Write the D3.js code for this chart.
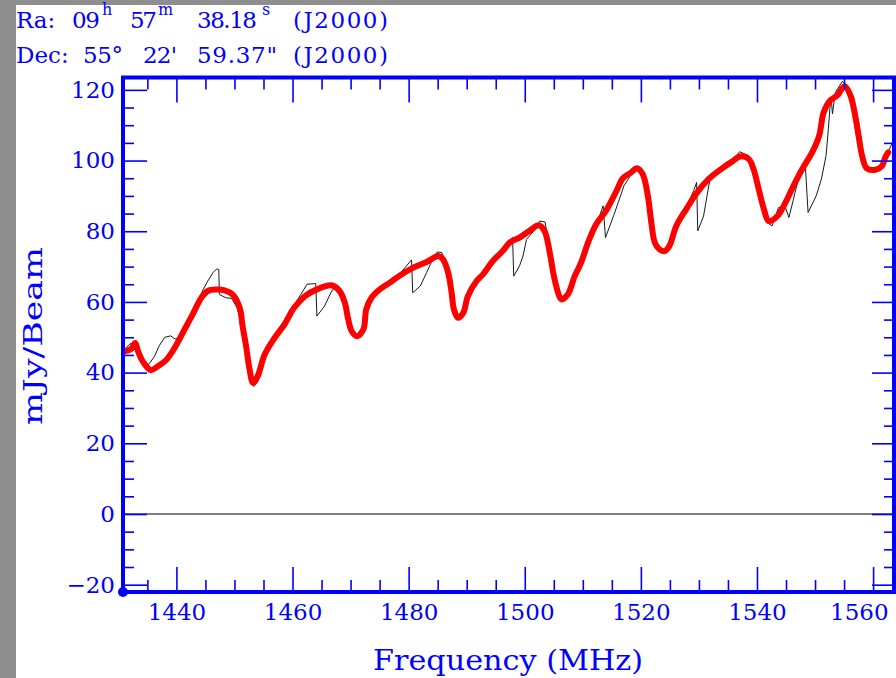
<!DOCTYPE html>
<html>
<head>
<meta charset="utf-8">
<script src="https://cdn.jsdelivr.net/npm/d3@7"></script>
<style>
body{margin:0;background:#8e8e8e;}
svg{display:block;}
</style>
</head>
<body>
<script>
// values: [frequency MHz, flux mJy/Beam]
var freqTicks = [1440, 1460, 1480, 1500, 1520, 1540, 1560];
var fluxTicks = [-20, 0, 20, 40, 60, 80, 100, 120];

var fitCurve = [
 [1431.1,46.0],[1432.2,46.7],[1432.9,48.4],[1433.4,46.0],[1434.2,43.2],[1435.6,40.7],[1436.8,41.8],
 [1438.2,43.5],[1439.7,47.0],[1441.4,52.2],[1442.8,56.5],[1444.3,61.2],[1445.4,63.1],[1446.9,63.5],
 [1448.3,63.3],[1449.7,62.1],[1450.9,58.4],[1451.4,53.1],[1452.0,47.5],[1452.6,40.9],[1453.2,37.1],
 [1454.0,39.0],[1455.2,45.1],[1456.9,49.8],[1458.6,53.6],[1460.3,58.4],[1462.1,61.6],[1464.4,63.7],
 [1466.7,64.7],[1468.1,63.1],[1469.0,59.8],[1469.6,55.0],[1470.2,51.7],[1471.1,50.3],[1472.2,52.2],
 [1472.7,57.9],[1473.6,61.2],[1475.0,63.5],[1476.7,65.4],[1478.5,67.5],[1480.8,69.7],[1483.1,71.3],
 [1485.1,73.0],[1485.9,72.1],[1486.8,68.3],[1487.4,62.6],[1487.8,57.9],[1488.5,55.5],[1489.4,56.9],
 [1490.2,61.6],[1491.7,65.9],[1492.8,67.8],[1494.5,71.6],[1496.2,74.4],[1497.4,76.8],[1499.1,78.2],
 [1500.8,80.1],[1502.4,81.7],[1503.4,80.1],[1504.3,74.0],[1504.9,68.3],[1505.5,64.0],[1506.3,60.7],
 [1507.4,62.1],[1508.6,67.3],[1509.7,71.1],[1510.9,76.8],[1512.3,82.0],[1514.0,85.8],[1515.8,91.4],
 [1516.9,95.0],[1518.3,96.6],[1519.3,97.8],[1520.3,96.2],[1521.2,90.0],[1521.8,82.5],[1522.4,76.8],
 [1523.2,74.9],[1524.1,74.4],[1524.9,75.8],[1526.1,81.5],[1527.8,86.2],[1529.7,91.0],[1531.7,94.8],
 [1534.0,97.8],[1535.7,99.7],[1537.2,101.2],[1538.6,100.4],[1539.4,97.6],[1540.3,91.9],[1541.2,86.2],
 [1542.0,82.9],[1543.5,84.3],[1544.9,88.1],[1546.3,92.9],[1547.8,97.6],[1549.5,102.3],[1550.7,107.0],
 [1551.5,113.7],[1552.6,117.0],[1553.8,118.4],[1555.1,121.0],[1556.1,118.4],[1556.8,113.7],[1557.5,107.0],
 [1558.1,101.4],[1558.9,97.8],[1560.4,97.4],[1561.5,98.4],[1562.1,100.9],[1562.6,102.3]
];

var rawSpectrum = [
 [1431.0,46.5],[1432.0,48.1],[1432.6,48.5],[1433.3,46.0],[1434.2,43.0],[1435.2,42.3],[1436.2,44.5],
 [1437.0,47.5],[1438.0,50.0],[1439.0,50.4],[1439.8,49.5],[1440.6,50.0],[1441.4,52.3],[1442.8,56.5],
 [1444.6,63.5],[1445.4,65.9],[1446.3,68.3],[1446.9,69.3],[1447.3,69.2],[1447.4,62.1],[1448.5,61.2],
 [1449.5,61.0],[1450.4,58.5],[1451.3,53.5],[1452.0,46.5],[1452.6,40.0],[1453.3,36.1],[1454.0,37.5],
 [1455.3,44.0],[1456.8,50.5],[1458.5,54.6],[1460.2,58.8],[1462.5,65.0],[1464.0,65.2],[1464.2,56.0],
 [1465.5,58.8],[1466.6,62.6],[1467.3,64.4],[1468.0,63.0],[1469.0,59.5],[1469.7,54.5],[1470.3,51.0],
 [1471.1,49.8],[1472.1,51.5],[1472.7,57.5],[1473.8,61.8],[1475.2,64.0],[1476.7,66.0],[1478.5,68.0],
 [1480.5,71.9],[1480.7,62.6],[1482.0,64.5],[1483.1,68.3],[1484.0,71.6],[1484.9,74.1],[1485.7,74.0],
 [1486.5,70.0],[1487.2,63.0],[1487.7,57.5],[1488.3,55.5],[1489.2,56.5],[1490.2,61.5],[1491.7,66.0],
 [1493.0,69.0],[1494.5,72.0],[1496.8,75.4],[1497.9,78.2],[1498.1,67.3],[1499.1,70.2],[1499.7,73.0],
 [1500.3,77.7],[1501.8,80.5],[1502.6,82.9],[1503.5,82.6],[1504.3,75.0],[1504.9,68.5],[1505.5,63.5],
 [1506.3,60.3],[1507.4,62.0],[1508.6,67.0],[1509.8,71.5],[1511.0,77.0],[1512.5,82.5],[1513.5,87.2],
 [1513.9,78.2],[1515.4,84.8],[1517.1,92.9],[1518.2,95.7],[1519.3,98.2],[1520.4,96.5],[1521.3,90.0],
 [1521.9,82.0],[1522.6,76.0],[1523.4,75.0],[1524.4,74.0],[1525.2,76.0],[1526.2,81.5],[1527.8,86.5],
 [1529.1,91.5],[1529.6,93.8],[1529.8,80.1],[1530.8,84.3],[1531.9,94.8],[1534.0,98.0],[1535.7,100.0],
 [1537.0,102.5],[1538.4,101.5],[1539.3,98.0],[1540.2,92.0],[1541.0,86.0],[1541.7,82.5],[1542.6,81.5],
 [1543.7,86.7],[1544.9,86.7],[1545.5,83.9],[1546.2,88.5],[1547.0,94.0],[1548.0,99.0],[1548.3,99.5],
 [1548.8,85.3],[1550.2,90.0],[1551.1,94.8],[1551.9,101.4],[1552.3,109.0],[1552.6,115.5],[1552.8,117.4],
 [1553.0,113.2],[1553.5,119.3],[1554.7,122.4],[1555.3,121.5],[1556.4,117.9],[1557.5,110.8],[1558.3,102.3],
 [1558.9,98.1],[1560.4,97.6],[1561.5,98.6],[1562.3,101.5],[1563.5,105.6]
];

// header tokens: text, left x, width (0 = natural), superscript?
var raTokens = [["Ra:",16,0],["09",72,28],["h",102,0,1],["57",130,27],["m",158,0,1],
  ["38.18",197,60],["s",262,0,1],["(J2000)",293,95]];
var decTokens = [["Dec:",16,0],["55°",83,40],["22'",143,34],["59.37\"",197,80],["(J2000)",293,95]];

var W = 896, H = 678;
var blue = "#0000ff";
var font = "DejaVu Serif";

var svg = d3.select("body").append("svg").attr("width", W).attr("height", H);
svg.append("rect").attr("width", W).attr("height", H).attr("fill", "#8e8e8e");
svg.append("rect").attr("x", 16).attr("y", 5).attr("width", W - 16).attr("height", H - 5).attr("fill", "#fff");

var x = d3.scaleLinear().domain([1430.8, 1563.6]).range([123, 894]);
var y = d3.scaleLinear().domain([-22.07, 123.5]).range([592, 77.5]);

var minorX = d3.range(1435, 1565, 5).filter(d => d % 20);
var minorY = d3.range(-20, 125, 5).filter(d => d % 20);

// header
function header(tokens, base) {
  tokens.forEach(t => {
    var tx = svg.append("text")
      .attr("x", t[1]).attr("y", t[3] ? base - 13 : base)
      .attr("font-family", font).attr("font-size", t[3] ? 16 : 23)
      .attr("fill", blue).text(t[0]);
    if (t[2]) tx.attr("textLength", t[2]).attr("lengthAdjust", "spacing");
  });
}
header(raTokens, 28);
header(decTokens, 63);

// zero line
svg.append("line")
  .attr("x1", x.range()[0]).attr("x2", x.range()[1])
  .attr("y1", y(0)).attr("y2", y(0))
  .attr("stroke", "#000").attr("stroke-width", 1.2);

svg.append("clipPath").attr("id", "plot").append("rect")
  .attr("x", 123).attr("y", 77.5).attr("width", 771).attr("height", 514.5);

var plot = svg.append("g").attr("clip-path", "url(#plot)");

var line = d3.line().x(d => x(d[0])).y(d => y(d[1]));

plot.append("path").datum(rawSpectrum)
  .attr("d", line)
  .attr("fill", "none").attr("stroke", "#1a1a1a").attr("stroke-width", 1);

plot.append("path").datum(fitCurve)
  .attr("d", line.curve(d3.curveCatmullRom.alpha(0.5)))
  .attr("fill", "none").attr("stroke", "#ff0000").attr("stroke-width", 6)
  .attr("stroke-linecap", "round").attr("stroke-linejoin", "round");

// axes
function ticks(axis, vals, size, tr, fmt, pad) {
  var g = svg.append("g").attr("transform", tr)
    .call(axis.tickValues(vals).tickSize(size).tickPadding(pad || 0).tickFormat(fmt || ""));
  g.select(".domain").remove();
  g.selectAll("line").attr("stroke", blue).attr("stroke-width", 1.6);
  g.selectAll("text").attr("fill", blue).attr("font-family", font).attr("font-size", 23);
  return g;
}
var bottom = ticks(d3.axisBottom(x), freqTicks, -25, "translate(0,592)", d3.format("d"), 12);
// last label is pulled in so it stays inside the frame
bottom.selectAll("text").filter(d => d == 1560).attr("text-anchor", "end").attr("x", 15);
ticks(d3.axisBottom(x), minorX, -12, "translate(0,592)");
ticks(d3.axisTop(x), freqTicks, -25, "translate(0,77.5)");
ticks(d3.axisTop(x), minorX, -12, "translate(0,77.5)");
ticks(d3.axisLeft(y), fluxTicks, -24, "translate(123,0)", d3.format("d"), 8);
ticks(d3.axisLeft(y), minorY, -11, "translate(123,0)");
ticks(d3.axisRight(y), fluxTicks, -22, "translate(894,0)");
ticks(d3.axisRight(y), minorY, -10, "translate(894,0)");

// frame
svg.append("rect")
  .attr("x", 123).attr("y", 77.5).attr("width", 771).attr("height", 514.5)
  .attr("fill", "none").attr("stroke", blue).attr("stroke-width", 4);

svg.append("circle")
  .attr("cx", x.range()[0]).attr("cy", y.range()[0]).attr("r", 5).attr("fill", blue);

// axis titles
svg.append("text")
  .attr("x", 373).attr("y", 670)
  .attr("font-family", font).attr("font-size", 27)
  .attr("textLength", 270).attr("lengthAdjust", "spacingAndGlyphs")
  .attr("fill", blue).text("Frequency (MHz)");

svg.append("text")
  .attr("transform", "translate(42,336) rotate(-90)")
  .attr("text-anchor", "middle")
  .attr("font-family", font).attr("font-size", 26)
  .attr("textLength", 178).attr("lengthAdjust", "spacingAndGlyphs")
  .attr("fill", blue).text("mJy/Beam");
</script>
</body>
</html>
